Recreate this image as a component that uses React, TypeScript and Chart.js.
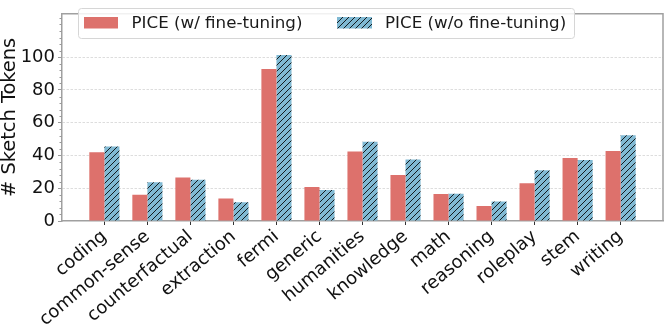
import React, { useEffect, useRef } from "react";
import { Chart, registerables } from "chart.js";

Chart.register(...registerables);

const categories = [
  "coding", "common-sense", "counterfactual", "extraction", "fermi", "generic",
  "humanities", "knowledge", "math", "reasoning", "roleplay", "stem", "writing",
];
const withFineTuning = [41.9, 16.0, 26.5, 13.7, 92.8, 20.7, 42.5, 28.1, 16.5, 9.2, 23.1, 38.4, 42.8];
const withoutFineTuning = [45.5, 23.6, 25.2, 11.5, 101.3, 19.0, 48.4, 37.5, 16.6, 11.9, 31.0, 37.3, 52.4];
const yMajorTicks = [0, 20, 40, 60, 80, 100];
const seriesLabels = ["PICE (w/ fine-tuning)", "PICE (w/o fine-tuning)"];

const RED = "#dd716c";
const BLUE = "#80b9d3";
const FONT = "'DejaVu Sans', sans-serif";

function makeHatch(): CanvasPattern | string {
  const s = 6;
  const c = document.createElement("canvas");
  c.width = s;
  c.height = s;
  const g = c.getContext("2d");
  if (!g) return BLUE;
  g.fillStyle = BLUE;
  g.fillRect(0, 0, s, s);
  g.strokeStyle = "rgba(0,0,0,0.85)";
  g.lineWidth = 1;
  g.beginPath();
  g.moveTo(-1, s + 1);
  g.lineTo(s + 1, -1);
  g.moveTo(-1, 1);
  g.lineTo(1, -1);
  g.moveTo(s - 1, s + 1);
  g.lineTo(s + 1, s - 1);
  g.stroke();
  const p = g.createPattern(c, "repeat");
  return p || BLUE;
}

export default function App() {
  const ref = useRef<HTMLCanvasElement | null>(null);

  useEffect(() => {
    document.body.style.margin = "0";
    const canvas = ref.current;
    if (!canvas) return;
    const hatch = makeHatch();
    (Chart.defaults as any).font.family = FONT;
    (Chart.defaults as any).color = "#111";

    const framePlugin = {
      id: "frameAndLegend",
      afterDraw(chart: any) {
        const ctx = chart.ctx;
        const a = chart.chartArea;
        const y = chart.scales.y;
        ctx.save();
        ctx.strokeStyle = "#a0a0a0";
        ctx.lineWidth = 1.5;
        ctx.beginPath();
        ctx.moveTo(a.left, a.top);
        ctx.lineTo(a.right, a.top);
        ctx.lineTo(a.right, a.bottom);
        ctx.stroke();
        ctx.strokeStyle = "#9a9a9a";
        ctx.lineWidth = 1;
        for (let v = 4; v <= 124; v += 4) {
          if (v % 20 === 0 && v <= 100) continue;
          const py = Math.round(y.getPixelForValue(v)) + 0.5;
          ctx.beginPath();
          ctx.moveTo(a.left - 2.5, py);
          ctx.lineTo(a.left, py);
          ctx.stroke();
        }
        const bx = 78.5, by = 8.5, bw = 496, bh = 30, r = 3;
        ctx.fillStyle = "rgba(255,255,255,0.85)";
        ctx.strokeStyle = "#d6d6d6";
        ctx.lineWidth = 1;
        ctx.beginPath();
        ctx.moveTo(bx + r, by);
        ctx.lineTo(bx + bw - r, by);
        ctx.arcTo(bx + bw, by, bx + bw, by + r, r);
        ctx.lineTo(bx + bw, by + bh - r);
        ctx.arcTo(bx + bw, by + bh, bx + bw - r, by + bh, r);
        ctx.lineTo(bx + r, by + bh);
        ctx.arcTo(bx, by + bh, bx, by + bh - r, r);
        ctx.lineTo(bx, by + r);
        ctx.arcTo(bx, by, bx + r, by, r);
        ctx.closePath();
        ctx.fill();
        ctx.stroke();
        ctx.fillStyle = RED;
        ctx.fillRect(84, 17, 34, 11.5);
        ctx.fillStyle = hatch as any;
        ctx.fillRect(337, 17, 35, 11.5);
        ctx.fillStyle = "#1a1a1a";
        ctx.font = `16.7px ${FONT}`;
        ctx.textBaseline = "middle";
        ctx.textAlign = "left";
        ctx.fillText(seriesLabels[0], 131.5, 23.5);
        ctx.fillText(seriesLabels[1], 385, 23.5);
        ctx.restore();
      },
    };

    const tickFont = { family: FONT, size: 18, lineHeight: 1.2 };

    const chart = new Chart(canvas, {
      type: "bar",
      data: {
        datasets: [
          {
            label: seriesLabels[0],
            data: withFineTuning.map((v, i) => ({ x: i, y: v })),
            backgroundColor: RED,
            borderWidth: 0,
            categoryPercentage: 0.7,
            barPercentage: 1.0,
          },
          {
            label: seriesLabels[1],
            data: withoutFineTuning.map((v, i) => ({ x: i, y: v })),
            backgroundColor: hatch as any,
            borderWidth: 0,
            categoryPercentage: 0.7,
            barPercentage: 1.0,
          },
        ],
      } as any,
      options: {
        animation: false,
        responsive: false,
        maintainAspectRatio: false,
        layout: { padding: { top: 1, right: 2, left: 0, bottom: 0 } },
        plugins: { legend: { display: false }, tooltip: { enabled: false } },
        scales: {
          x: {
            type: "linear",
            min: -0.985,
            max: 12.985,
            offset: false,
            afterBuildTicks: (scale: any) => {
              scale.ticks = categories.map((_, i) => ({ value: i }));
            },
            afterFit: (scale: any) => {
              scale.height = 104;
            },
            grid: {
              display: true,
              drawOnChartArea: false,
              drawTicks: true,
              tickLength: 4,
              tickColor: "#333",
              tickWidth: 1,
              offset: false,
            },
            border: { display: true, color: "#a0a0a0", width: 1.5 },
            ticks: {
              autoSkip: false,
              minRotation: 40,
              maxRotation: 40,
              padding: 1,
              color: "#111",
              font: tickFont,
              callback: (v: any) => categories[Math.round(Number(v))] ?? "",
            },
          },
          y: {
            type: "linear",
            min: 0,
            max: 126.5,
            afterBuildTicks: (scale: any) => {
              scale.ticks = yMajorTicks.map((v) => ({ value: v }));
            },
            afterFit: (scale: any) => {
              scale.width = 62;
            },
            grid: {
              display: true,
              color: (c: any) => (c.tick && c.tick.value === 0 ? "rgba(0,0,0,0)" : "#d4d4d4"),
              lineWidth: 0.8,
              drawTicks: true,
              tickLength: 4,
              tickColor: "#9a9a9a",
              tickWidth: 1,
            },
            border: { display: true, color: "#a0a0a0", width: 1.5, dash: [2.5, 1.5] } as any,
            ticks: {
              padding: 3,
              color: "#111",
              font: tickFont,
            },
            title: {
              display: true,
              text: "# Sketch Tokens",
              color: "#111",
              font: { family: FONT, size: 19.4, lineHeight: 1.0 },
              padding: { top: 0, bottom: 0 },
            },
          },
        },
      } as any,
      plugins: [framePlugin],
    });
    return () => chart.destroy();
  }, []);

  return (
    <div style={{ position: "absolute", left: 0, top: 0, width: 665, height: 325 }}>
      <canvas ref={ref} width={665} height={325} style={{ display: "block" }} />
    </div>
  );
}
